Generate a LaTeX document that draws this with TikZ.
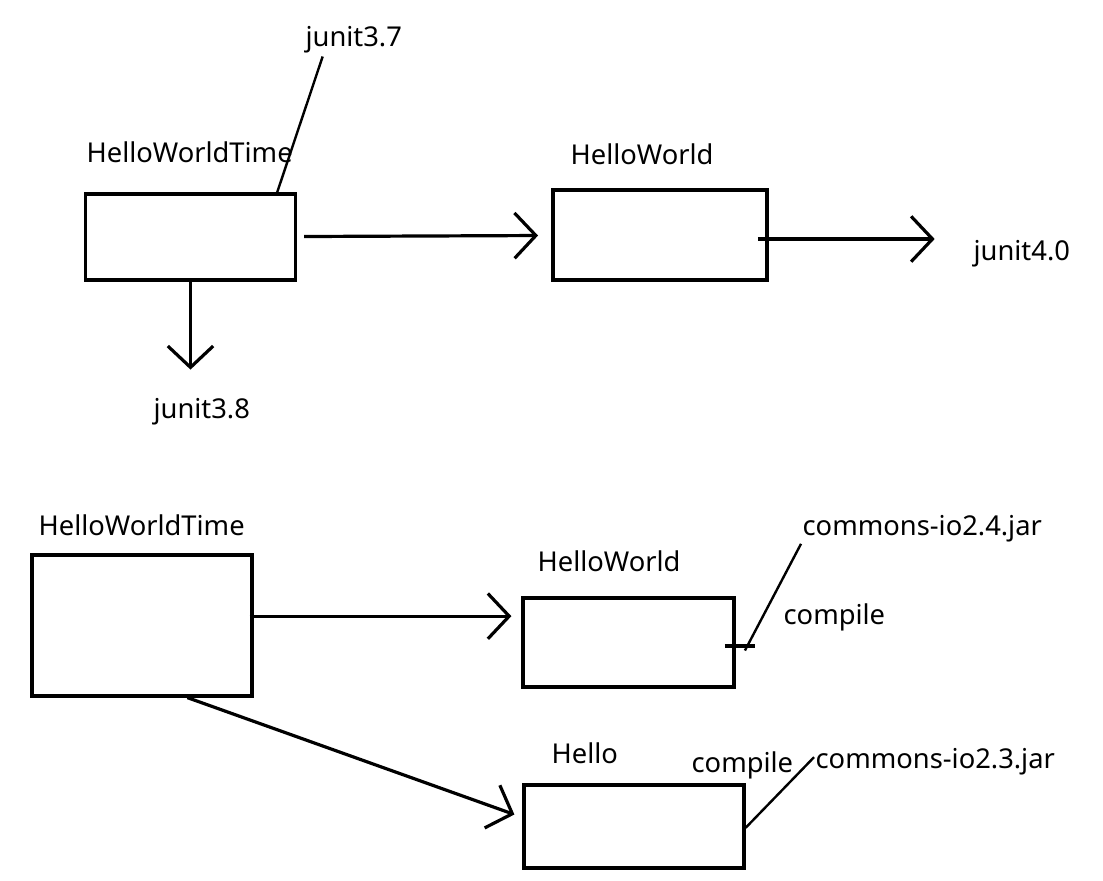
\documentclass[tikz,border=0pt]{standalone}
\usepackage{fontspec}
\setmainfont{Noto Sans}
\usetikzlibrary{arrows.meta}

\tikzset{
  module/.style={draw, line width=2.4pt, inner sep=0pt},
  tag/.style={inner sep=0pt, anchor=base west, font=\fontsize{20.5pt}{24pt}\selectfont},
  leader/.style={line width=1.8pt},
}

\begin{document}
\begin{tikzpicture}[x=0.75pt, y=-0.75pt, line width=2.4pt, >={Straight Barb[length=16pt,width=34pt]}]

\useasboundingbox (0,0) rectangle (1103,881);

% boxes
\foreach \n/\x/\y/\w/\h in {hwt-1/190.5/237/158/64.5, hw-1/660/235/160.5/67.5,
    hwt-2/142/625.5/165/105.75, hw-2/628.5/642.5/158.25/66.75, hello/634/826.5/165/62.25}
  \node [module, minimum width=\w pt, minimum height=\h pt] (\n) at (\x,\y) {};

% labels
\foreach \n/\t/\x/\y in {
    title-hwt-1/HelloWorldTime/85/162,
    title-hw-1/HelloWorld/569/164,
    junit-37/junit3.7/304/47,
    junit-38/junit3.8/152/418,
    junit-40/junit4.0/972/260,
    title-hwt-2/HelloWorldTime/37/535,
    title-hw-2/HelloWorld/536/571,
    title-hello/Hello/550/763,
    io-24/commons-io2.4.jar/801/535,
    io-23/commons-io2.3.jar/814/768,
    compile-1/compile/782/624,
    compile-2/compile/690/772}
  \node [tag] (\n) at (\x,\y) {\t};

% upper picture
\draw [->, shorten <=5pt, shorten >=10pt] (hwt-1) -- (hw-1);
\draw [->, shorten <=-8pt, shorten >=28pt] ([yshift=-3pt]hw-1.east) -- ([yshift=-3pt]hw-1.east -| junit-40.west);
\draw [->, shorten >=20pt] (hwt-1) -- (hwt-1 |- junit-38.north);
\draw [leader] ([xshift=65pt]hwt-1.north) -- ([xshift=14pt,yshift=-1pt]junit-37.south west);

% lower picture
\draw [->, shorten <=-3pt, shorten >=7.5pt] ([yshift=7pt]hwt-2.east) -- ([yshift=7pt]hwt-2.east -| hw-2.west);
\draw [->] ([xshift=34pt]hwt-2.south) -- ([xshift=-6pt,yshift=9pt]hello.west);
\draw ([xshift=-8pt,yshift=-2.6pt]hw-2.east) -- ++(30,0);
\draw [leader] ([xshift=7pt,yshift=-6pt]hw-2.east) -- ([yshift=-0.5pt]io-24.south west);
\draw [leader] ([yshift=-1pt]hello.east) -- ([yshift=3pt]io-23.west);

\end{tikzpicture}
\end{document}
